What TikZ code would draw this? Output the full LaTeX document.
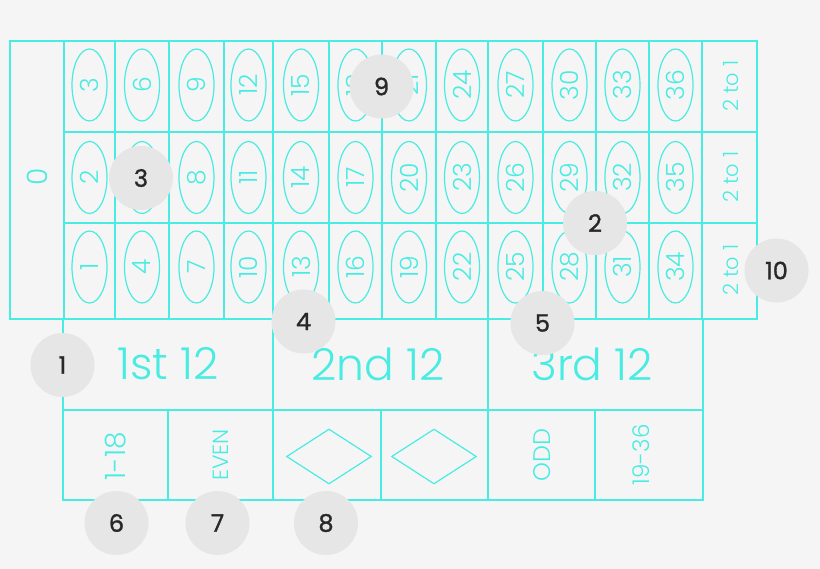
\documentclass[tikz,border=0pt]{standalone}
\usepackage{fontspec}
\setmainfont{Poppins}[UprightFont={* Light}]
\newfontfamily\markfont{Poppins}[FakeBold=1.2]
\usetikzlibrary{shapes.geometric}

\definecolor{felt}{RGB}{245,245,245}
\definecolor{line}{RGB}{72,236,226}
\definecolor{markgray}{RGB}{230,230,230}
\definecolor{markink}{RGB}{40,40,40}

\tikzset{
  table/.style={draw=line, line width=1.2pt},
  num/.style={ellipse, draw=line, line width=1.2pt, text=line, rotate=90,
    minimum width=72pt, minimum height=35pt, inner sep=0pt,
    font=\fontsize{25}{25}\selectfont},
  side/.style={text=line, rotate=90, inner sep=0pt},
  dozen/.style={text=line, inner sep=0pt, font=\fontsize{44}{44}\selectfont},
  rhomb/.style={diamond, draw=line, line width=1.2pt, inner sep=0pt,
    minimum width=85pt, minimum height=55pt},
  marker/.style={circle, fill=markgray, minimum size=64pt, inner sep=0pt,
    text=markink, font=\markfont\fontsize{24}{24}\selectfont}
}

\begin{document}
\begin{tikzpicture}[x=1pt,y=-1pt]
\fill[felt] (0,0) rectangle (820,569);

% number grid
\draw[table] (10,41) rectangle (757,319);
\draw[table] (64,41) -- (64,319);
\draw[table] (115,41) -- (115,319);
\draw[table] (169,41) -- (169,319);
\draw[table] (224,41) -- (224,319);
\draw[table] (273,41) -- (273,319);
\draw[table] (329,41) -- (329,319);
\draw[table] (382,41) -- (382,319);
\draw[table] (436,41) -- (436,319);
\draw[table] (488,41) -- (488,319);
\draw[table] (543,41) -- (543,319);
\draw[table] (596,41) -- (596,319);
\draw[table] (649,41) -- (649,319);
\draw[table] (702,41) -- (702,319);
\draw[table] (64,132) -- (757,132);
\draw[table] (64,223) -- (757,223);

\node[side, font=\fontsize{28}{28}\selectfont] (zero) at (37,177) {0};

\node[num] (n3) at (89.5,85) {3};
\node[num] (n2) at (89.5,177.5) {2};
\node[num] (n1) at (89.5,267) {1};
\node[num] (n6) at (142,85) {6};
\node[num] (n5) at (142,177.5) {5};
\node[num] (n4) at (142,267) {4};
\node[num] (n9) at (196.5,85) {9};
\node[num] (n8) at (196.5,177.5) {8};
\node[num] (n7) at (196.5,267) {7};
\node[num] (n12) at (248.5,85) {12};
\node[num] (n11) at (248.5,177.5) {11};
\node[num] (n10) at (248.5,267) {10};
\node[num] (n15) at (301,85) {15};
\node[num] (n14) at (301,177.5) {14};
\node[num] (n13) at (301,267) {13};
\node[num] (n18) at (355.5,85) {18};
\node[num] (n17) at (355.5,177.5) {17};
\node[num] (n16) at (355.5,267) {16};
\node[num] (n21) at (409,85) {21};
\node[num] (n20) at (409,177.5) {20};
\node[num] (n19) at (409,267) {19};
\node[num] (n24) at (462,85) {24};
\node[num] (n23) at (462,177.5) {23};
\node[num] (n22) at (462,267) {22};
\node[num] (n27) at (515.5,85) {27};
\node[num] (n26) at (515.5,177.5) {26};
\node[num] (n25) at (515.5,267) {25};
\node[num] (n30) at (569.5,85) {30};
\node[num] (n29) at (569.5,177.5) {29};
\node[num] (n28) at (569.5,267) {28};
\node[num] (n33) at (622.5,85) {33};
\node[num] (n32) at (622.5,177.5) {32};
\node[num] (n31) at (622.5,267) {31};
\node[num] (n36) at (675.5,85) {36};
\node[num] (n35) at (675.5,177.5) {35};
\node[num] (n34) at (675.5,267) {34};

\node[side, font=\fontsize{21}{21}\selectfont] (col3) at (731,86) {2 to 1};
\node[side, font=\fontsize{21}{21}\selectfont] (col2) at (731,177) {2 to 1};
\node[side, font=\fontsize{21}{21}\selectfont] (col1) at (731,270) {2 to 1};

% outside bets
\draw[table] (63,319) rectangle (703,500);
\draw[table] (63,410) -- (703,410);
\draw[table] (273,319) -- (273,500);
\draw[table] (488,319) -- (488,500);
\draw[table] (168,410) -- (168,500);
\draw[table] (381,410) -- (381,500);
\draw[table] (595,410) -- (595,500);

\node[dozen] (first) at (168,364) {1st 12};
\node[dozen] (second) at (378,364) {2nd 12};
\node[dozen] (third) at (592,364) {3rd 12};

\node[side, font=\fontsize{28}{28}\selectfont] (low) at (115.5,456) {1-18};
\node[side, font=\fontsize{22}{22}\selectfont] (even) at (221,455) {EVEN};
\node[rhomb] (red) at (329,456.5) {};
\node[rhomb] (black) at (434,456.5) {};
\node[side, font=\fontsize{24}{24}\selectfont] (odd) at (542,455) {ODD};
\node[side, font=\fontsize{23}{23}\selectfont] (high) at (641,455) {19-36};

% numbered markers
\node[marker] (m1) at (62.5,365) {1};
\node[marker] (m2) at (595,223) {2};
\node[marker] (m3) at (141,178) {3};
\node[marker] (m4) at (303.5,321.5) {4};
\node[marker] (m5) at (542.5,323) {5};
\node[marker] (m6) at (116.5,523) {6};
\node[marker] (m7) at (217.5,523) {7};
\node[marker] (m8) at (326,523) {8};
\node[marker] (m9) at (381.5,86.5) {9};
\node[marker] (m10) at (776.5,270.5) {10};
\end{tikzpicture}
\end{document}
